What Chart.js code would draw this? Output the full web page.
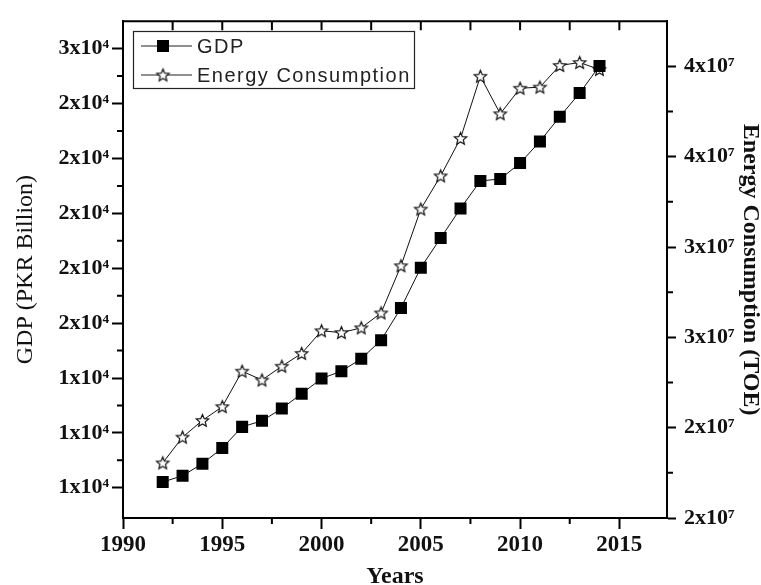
<!DOCTYPE html>
<html>
<head>
<meta charset="utf-8">
<script src="https://cdn.jsdelivr.net/npm/chart.js@4.4.1/dist/chart.umd.min.js"></script>
<style>
  html, body { margin: 0; padding: 0; background: #fff; }
  #wrap { width: 761px; height: 585px; }
</style>
</head>
<body>
<div id="wrap"><canvas id="chart" width="761" height="585"></canvas></div>
<script>
// values
const years = [1992, 1993, 1994, 1995, 1996, 1997, 1998, 1999, 2000, 2001, 2002, 2003,
               2004, 2005, 2006, 2007, 2008, 2009, 2010, 2011, 2012, 2013, 2014];
const gdp = [10210, 10440, 10880, 11450, 12220, 12440, 12890, 13430, 13980, 14250, 14700, 15380,
             16550, 18020, 19100, 20180, 21180, 21250, 21830, 22620, 23520, 24380, 25370];
const energy = [22.44e6, 23.58e6, 24.32e6, 24.93e6, 26.50e6, 26.11e6, 26.72e6, 27.29e6, 28.29e6,
                28.21e6, 28.42e6, 29.08e6, 31.17e6, 33.68e6, 35.15e6, 36.81e6, 39.56e6, 37.90e6,
                39.03e6, 39.08e6, 40.04e6, 40.17e6, 39.86e6];

const xTicks = [1990, 1995, 2000, 2005, 2010, 2015];
const gdpTicks = [10000, 12000, 14000, 16000, 18000, 20000, 22000, 24000, 26000];
const gdpTickLabels = ['1x10⁴', '1x10⁴', '1x10⁴', '2x10⁴', '2x10⁴', '2x10⁴', '2x10⁴', '2x10⁴', '3x10⁴'];
const energyTicks = [2.0e7, 2.4e7, 2.8e7, 3.2e7, 3.6e7, 4.0e7];
const energyTickLabels = ['2x10⁷', '2x10⁷', '3x10⁷', '3x10⁷', '4x10⁷', '4x10⁷'];

const serif = '"Liberation Serif", "Times New Roman", "DejaVu Serif", serif';

// hollow five point star used as point style
function makeStar(r) {
  const size = Math.ceil(r * 2 + 4);
  const c = document.createElement('canvas');
  c.width = c.height = size;
  const g = c.getContext('2d');
  const cx = size / 2, cy = size / 2 + 0.5;
  g.beginPath();
  for (let i = 0; i < 10; i++) {
    const rad = i % 2 ? r * 0.45 : r;
    const a = -Math.PI / 2 + i * Math.PI / 5;
    const px = cx + rad * Math.cos(a), py = cy + rad * Math.sin(a);
    if (i) g.lineTo(px, py); else g.moveTo(px, py);
  }
  g.closePath();
  g.fillStyle = '#fff';
  g.fill();
  g.strokeStyle = '#111';
  g.lineWidth = 1.2;
  g.stroke();
  return c;
}
const star = makeStar(6.5);

// top frame, minor ticks and the boxed legend
const extras = {
  id: 'extras',
  afterDraw(chart) {
    const { ctx, chartArea: a, scales } = chart;
    const x = scales.x, yl = scales.y, yr = scales.y1;
    ctx.save();
    ctx.strokeStyle = '#000';
    ctx.lineWidth = 2;
    ctx.beginPath();
    ctx.moveTo(a.left - 1, a.top);
    ctx.lineTo(a.right + 1, a.top);
    ctx.stroke();

    ctx.beginPath();
    xTicks.forEach(v => {
      [v, v + 2.5].forEach((t, k) => {
        if (t > x.max) return;
        const px = x.getPixelForValue(t);
        ctx.moveTo(px, a.top);
        ctx.lineTo(px, a.top + 9);
        if (k) { ctx.moveTo(px, a.bottom); ctx.lineTo(px, a.bottom + 6); }
      });
    });
    gdpTicks.concat([gdpTicks[0] - 2000]).forEach(v => {
      const py = yl.getPixelForValue(v + 1000);
      if (py < a.top + 4 || py > a.bottom - 4) return;
      ctx.moveTo(a.left, py);
      ctx.lineTo(a.left - 6, py);
    });
    energyTicks.forEach(v => {
      const py = yr.getPixelForValue(v + 0.2e7);
      if (py < a.top + 4 || py > a.bottom - 4) return;
      ctx.moveTo(a.right, py);
      ctx.lineTo(a.right + 6, py);
    });
    ctx.stroke();

    // legend
    ctx.lineWidth = 1.2;
    ctx.strokeStyle = '#222';
    ctx.strokeRect(133.5, 31.5, 281, 57);
    ctx.font = '20px "Liberation Sans", Arial, sans-serif';
    ctx.letterSpacing = '1.5px';
    ctx.textBaseline = 'middle';
    ctx.fillStyle = '#222';
    chart.data.datasets.forEach((ds, i) => {
      const cy = 46 + i * 29;
      ctx.beginPath();
      ctx.moveTo(141, cy);
      ctx.lineTo(192, cy);
      ctx.lineWidth = 1.2;
      ctx.stroke();
      if (ds.pointStyle === 'rect') {
        ctx.fillStyle = '#000';
        ctx.fillRect(157, cy - 6, 12, 12);
      } else {
        ctx.drawImage(ds.pointStyle, 163 - star.width / 2, cy - star.height / 2);
      }
      ctx.fillStyle = '#222';
      ctx.fillText(ds.label, 197, cy + 1);
    });
    ctx.restore();
  }
};

const pts = arr => years.map((yr, i) => ({ x: yr, y: arr[i] }));

new Chart(document.getElementById('chart').getContext('2d'), {
  type: 'line',
  data: {
    datasets: [{
      label: 'GDP',
      data: pts(gdp),
      yAxisID: 'y',
      borderColor: '#111',
      borderWidth: 1,
      pointStyle: 'rect',
      pointRadius: 8.5,
      pointBackgroundColor: '#000',
      pointBorderColor: '#000',
      pointBorderWidth: 0,
      tension: 0
    }, {
      label: 'Energy Consumption',
      data: pts(energy),
      yAxisID: 'y1',
      borderColor: '#111',
      borderWidth: 1,
      pointStyle: star,
      pointRadius: 7,
      tension: 0
    }]
  },
  options: {
    responsive: false,
    animation: false,
    layout: { padding: { top: 14, left: 0, right: 0, bottom: 0 } },
    plugins: { legend: { display: false }, tooltip: { enabled: false } },
    scales: {
      x: {
        type: 'linear',
        position: 'bottom',
        min: 1990,
        max: 2017.4,
        afterBuildTicks: s => { s.ticks = xTicks.map(v => ({ value: v })); },
        afterFit: s => { s.height = 67; },
        grid: { drawOnChartArea: false, tickLength: 11, tickWidth: 2, tickColor: '#000' },
        border: { display: true, color: '#000', width: 2 },
        ticks: {
          color: '#111', padding: 2, maxRotation: 0,
          font: { family: serif, size: 23, weight: 'bold' },
          callback: v => String(v)
        },
        title: {
          display: true, text: 'Years', color: '#111', padding: 0,
          font: { family: serif, size: 24, weight: 'bold', lineHeight: 0.66 }
        }
      },
      y: {
        position: 'left',
        min: 8900,
        max: 27000,
        afterBuildTicks: s => { s.ticks = gdpTicks.map(v => ({ value: v })); },
        afterFit: s => { s.width = 123; },
        grid: { drawOnChartArea: false, tickLength: 11, tickWidth: 2, tickColor: '#000' },
        border: { display: true, color: '#000', width: 2 },
        ticks: {
          color: '#111', padding: 3,
          font: { family: serif, size: 22, weight: 'bold' },
          callback: (v, i) => gdpTickLabels[i]
        },
        title: {
          display: true, text: 'GDP (PKR Billion)', color: '#111', padding: { top: 11 },
          font: { family: serif, size: 24, lineHeight: 1.2 }
        }
      },
      y1: {
        position: 'right',
        min: 2.0e7,
        max: 4.2e7,
        afterBuildTicks: s => { s.ticks = energyTicks.map(v => ({ value: v })); },
        afterFit: s => { s.width = 94; },
        grid: { drawOnChartArea: false, tickLength: 9, tickWidth: 2, tickColor: '#000' },
        border: { display: true, color: '#000', width: 2 },
        ticks: {
          color: '#111', padding: 8,
          font: { family: serif, size: 22, weight: 'bold' },
          callback: (v, i) => energyTickLabels[i]
        },
        title: {
          display: true, text: 'Energy Consumption (TOE)', color: '#111', padding: { top: 0 },
          font: { family: serif, size: 24, weight: 'bold', lineHeight: 0.9 }
        }
      }
    }
  },
  plugins: [extras]
});
</script>
</body>
</html>
